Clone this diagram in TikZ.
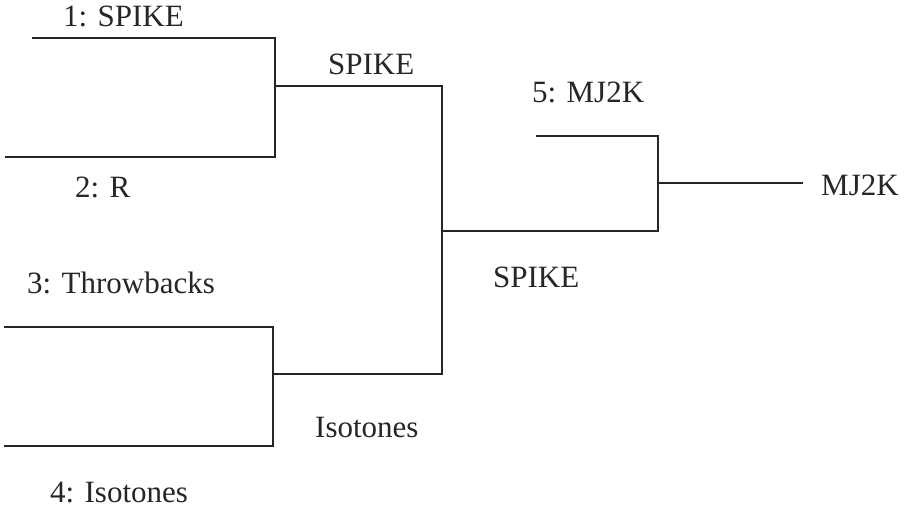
\documentclass[tikz,border=0pt]{standalone}
\usepackage{fontspec}
\setmainfont{Liberation Serif}
\begin{document}
\begin{tikzpicture}[x=1pt,y=-1pt,
  wire/.style={line width=1.4pt,draw=black!85,line cap=rect},
  lbl/.style={inner sep=0pt,anchor=base west,text=black!85,font=\fontsize{31}{36}\selectfont}]
\useasboundingbox (0,0) rectangle (906,513);

% bracket end points
\coordinate (e1) at (33,38);
\coordinate (j1a) at (275,38);
\coordinate (e2) at (6,157);
\coordinate (j1b) at (275,157);
\coordinate (m1) at (275,86);
\coordinate (e3) at (5,327);
\coordinate (j2a) at (273,327);
\coordinate (e4) at (5,446);
\coordinate (j2b) at (273,446);
\coordinate (m2) at (273,374);
\coordinate (s1) at (442,86);
\coordinate (s2) at (442,374);
\coordinate (m3) at (442,231);
\coordinate (e5) at (537,136);
\coordinate (f1) at (658,136);
\coordinate (f2) at (658,231);
\coordinate (m4) at (658,183);
\coordinate (out) at (802,183);

% labels
\node[lbl] (t1) at (63,27) {1: SPIKE};
\node[lbl] (t2) at (75,198) {2: R};
\node[lbl] (t3) at (27,294) {3: Throwbacks};
\node[lbl] (t4) at (50,502) {4: Isotones};
\node[lbl] (t5) at (532,103) {5: MJ2K};
\node[lbl] (w1) at (328,75) {SPIKE};
\node[lbl] (w2) at (315,437) {Isotones};
\node[lbl] (w3) at (493,288) {SPIKE};
\node[lbl] (champ) at (821,196) {MJ2K};

% first round
\draw[wire] (e1) -- (j1a) -- (j1b) -- (e2);
\draw[wire] (m1) -- (s1);
\draw[wire] (e3) -- (j2a) -- (j2b) -- (e4);
\draw[wire] (m2) -- (s2);
% semifinal
\draw[wire] (s1) -- (s2);
\draw[wire] (m3) -- (f2);
% final
\draw[wire] (e5) -- (f1) -- (f2);
\draw[wire] (m4) -- (out);
\end{tikzpicture}
\end{document}
